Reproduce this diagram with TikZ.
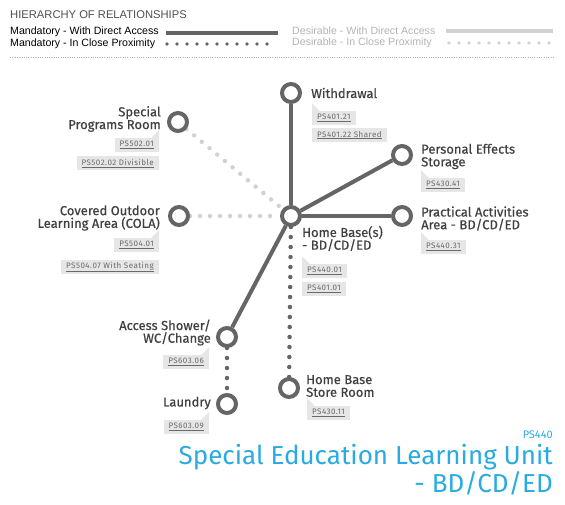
\documentclass[tikz,border=0pt]{standalone}
\usepackage{fontspec}
\setmainfont{Liberation Sans}
\newfontfamily\dinfont{Fira Sans}
\newfontfamily\dinmed{Fira Sans}[FakeBold=0.6]
\newfontfamily\tagfont{Fira Sans}[LetterSpace=6]
\usetikzlibrary{backgrounds}
\definecolor{linegray}{HTML}{656565}
\definecolor{lightdot}{HTML}{D2D2D2}
\definecolor{labelgray}{HTML}{404040}
\definecolor{tagfill}{HTML}{E6E6E6}
\definecolor{taggray}{HTML}{6A6A6A}
\definecolor{headgray}{HTML}{4F4F4F}
\definecolor{desgray}{HTML}{B4B4B4}
\definecolor{titleblue}{HTML}{29ABE2}
\newcommand\notchL[1]{\fill[tagfill] (#1.north west) -- ++(0,-8) -- ++(8,8) -- cycle;}
\newcommand\notchR[1]{\fill[tagfill] (#1.north east) -- ++(0,-8) -- ++(-8,8) -- cycle;}
\tikzset{
  room/.style={circle, draw=linegray, line width=4pt, fill=white, minimum size=18pt, inner sep=0pt},
  link/.style={draw=linegray, line width=4pt},
  mandot/.style={draw=linegray, line width=4.5pt, line cap=round, dash pattern=on 0pt off 10pt},
  desdot/.style={draw=lightdot, line width=4.5pt, line cap=round, dash pattern=on 0pt off 10pt},
  lbl/.style={font=\dinmed\fontsize{13}{12.7}\selectfont, text=labelgray, inner sep=0pt},
  tagbox/.style={fill=tagfill, text=taggray, font=\tagfont\fontsize{8}{9}\selectfont, inner xsep=5pt, inner ysep=0pt, minimum height=14pt},
  legtext/.style={font=\fontsize{10.6}{12}\selectfont, inner sep=0pt, anchor=west},
}
\begin{document}
\begin{tikzpicture}[x=1pt,y=-1pt]
\useasboundingbox (0,0) rectangle (565,504);
% ---- header / legend
\node[anchor=west, inner sep=0pt, text=headgray, font=\fontsize{11.2}{13}\selectfont] (head) at (10,15) {HIERARCHY OF RELATIONSHIPS};
\node[legtext, text=black] (m1) at (10,32) {Mandatory - With Direct Access};
\node[legtext, text=black] (m2) at (10,44) {Mandatory - In Close Proximity};
\node[legtext, text=desgray] (d1) at (292,31) {Desirable - With Direct Access};
\node[legtext, text=desgray] (d2) at (292,43) {Desirable - In Close Proximity};
\coordinate (m1a) at (166,33); \coordinate (m1b) at (278,33);
\coordinate (m2a) at (167,44); \coordinate (m2b) at (277,44);
\coordinate (d1a) at (446,31); \coordinate (d1b) at (553,31);
\coordinate (d2a) at (449,43); \coordinate (d2b) at (552,43);
\coordinate (sepa) at (10,57); \coordinate (sepb) at (553,57);
\draw[link] (m1a) -- (m1b);
\draw[draw=linegray, line width=3.6pt, line cap=round, dash pattern=on 0pt off 10pt] (m2a) -- (m2b);
\draw[draw=lightdot, line width=4pt] (d1a) -- (d1b);
\draw[draw=lightdot, line width=3.6pt, line cap=round, dash pattern=on 0pt off 10pt] (d2a) -- (d2b);
\draw[draw=desgray, line width=0.7pt, dash pattern=on 0.7pt off 1.6pt] (sepa) -- (sepb);
% ---- rooms
\node[room] (home) at (291,216) {};
\node[room] (wd) at (291,93) {};
\node[room] (pes) at (402,155) {};
\node[room] (paa) at (402,216) {};
\node[room] (spr) at (178,122) {};
\node[room] (cola) at (179,216) {};
\node[room] (asw) at (227,337) {};
\node[room] (lau) at (227,404) {};
\node[room] (hbs) at (289,388) {};
% ---- connectors
\begin{scope}[on background layer]
\draw[link] (home) -- (wd);
\draw[link] (home) -- (pes);
\draw[link] (home) -- (paa);
\draw[link] (home) -- (asw);
\draw[mandot] (home) -- (hbs);
\draw[mandot] (asw) -- (lau);
\draw[desdot] (spr) -- (home);
\draw[desdot] (cola) -- (home);
\end{scope}
% ---- labels
\node[lbl, anchor=west] (wdl) at (311,93) {Withdrawal};
\node[lbl, anchor=west, align=left] (pesl) at (421,156.5) {Personal Effects\\Storage};
\node[lbl, anchor=west, align=left] (paal) at (421,218.5) {Practical Activities\\Area - BD/CD/ED};
\node[lbl, anchor=west, align=left] (homel) at (302,238.5) {Home Base(s)\\- BD/CD/ED};
\node[lbl, anchor=east, align=right] (sprl) at (161,119) {Special\\Programs Room};
\node[lbl, anchor=east, align=right] (colal) at (160,218) {Covered Outdoor\\Learning Area (COLA)};
\node[lbl, anchor=east, align=right] (aswl) at (211,332.5) {Access Shower/\\WC/Change};
\node[lbl, anchor=east] (laul) at (211,403) {Laundry};
\node[lbl, anchor=west, align=left] (hbsl) at (306,386) {Home Base\\Store Room};
% ---- tags
\node[tagbox, anchor=north west] (w1) at (312,111) {\underline{PS401.21}}; \notchL{w1}
\node[tagbox, anchor=north west] (w2) at (312,128) {\underline{PS401.22 Shared}};
\node[tagbox, anchor=north west] (p1) at (421,178) {\underline{PS430.41}}; \notchL{p1}
\node[tagbox, anchor=north west] (a1) at (421,240) {\underline{PS440.31}}; \notchL{a1}
\node[tagbox, anchor=north west] (h1) at (302,264) {\underline{PS440.01}}; \notchL{h1}
\node[tagbox, anchor=north west] (h2) at (302,282) {\underline{PS401.01}};
\node[tagbox, anchor=north west] (s1) at (307,406) {\underline{PS430.11}}; \notchL{s1}
\node[tagbox, anchor=north east] (sp1) at (159,138) {\underline{PS502.01}}; \notchR{sp1}
\node[tagbox, anchor=north east] (sp2) at (159,156) {\underline{PS502.02 Divisible}};
\node[tagbox, anchor=north east] (c1) at (159,238) {\underline{PS504.01}}; \notchR{c1}
\node[tagbox, anchor=north east] (c2) at (159,260) {\underline{PS504.07 With Seating}};
\node[tagbox, anchor=north east] (as1) at (209,355) {\underline{PS603.06}}; \notchR{as1}
\node[tagbox, anchor=north east] (l1) at (209,420) {\underline{PS603.09}}; \notchR{l1}
% ---- title
\node[anchor=base east, inner sep=0pt, text=titleblue, font=\dinfont\fontsize{11}{12}\selectfont] (code) at (553,438) {PS440};
\node[anchor=north east, inner sep=0pt, align=right, text=titleblue, font=\dinfont\fontsize{26}{22}\selectfont] (title) at (553,444) {Special Education Learning Unit\\- BD/CD/ED};
\end{tikzpicture}
\end{document}
